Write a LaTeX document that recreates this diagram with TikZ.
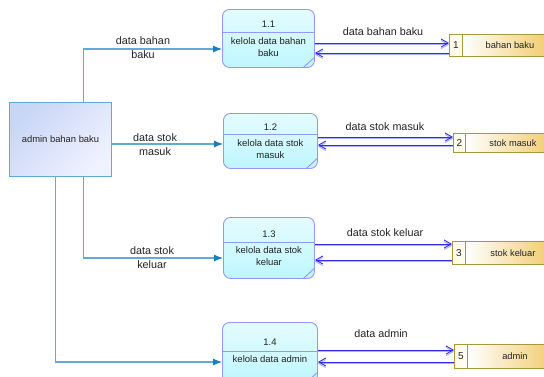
\documentclass[tikz,border=0pt]{standalone}
\usepackage{fontspec}
\setmainfont{Liberation Sans}
\usetikzlibrary{arrows.meta,calc}
\definecolor{entline}{RGB}{95,170,215}
\definecolor{entarrow}{RGB}{25,125,195}
\definecolor{entA}{RGB}{200,214,246}
\definecolor{entB}{RGB}{240,242,255}
\definecolor{procline}{RGB}{150,150,250}
\definecolor{procA}{RGB}{228,252,255}
\definecolor{procB}{RGB}{190,246,255}
\definecolor{flowblue}{RGB}{45,45,235}
\definecolor{flowlight}{RGB}{175,175,250}
\definecolor{storeline}{RGB}{170,150,60}
\definecolor{storegold}{RGB}{240,198,95}
\definecolor{storecream}{RGB}{255,252,236}
\definecolor{txt}{RGB}{35,35,35}
\tikzset{
  x=1pt, y=-1pt,
  every node/.style={text=txt, inner sep=0pt},
  ent/.style={draw=entline, line width=1pt, top color=entA, bottom color=entB,
    shading angle=45, font=\fontsize{9.4}{11}\selectfont},
  proc/.style={draw=procline, line width=0.9pt, rounded corners=7pt,
    top color=procA, bottom color=procB},
  ptext/.style={font=\fontsize{9.5}{12.5}\selectfont, align=center},
  flabel/.style={font=\fontsize{10.8}{14}\selectfont, align=center},
  storenum/.style={draw=storeline, line width=0.9pt, fill=storecream,
    font=\fontsize{10}{12}\selectfont},
  storemain/.style={draw=storeline, line width=0.9pt, left color=white,
    right color=storegold, font=\fontsize{9.3}{11}\selectfont},
  entflow/.style={draw=entline, line width=1.1pt,
    -{Latex[length=9pt,width=7pt,color=entarrow]}},
  flow/.style={draw=flowblue, line width=0.9pt,
    -{Straight Barb[length=7pt,width=8pt]},
    preaction={draw=flowlight, line width=0.9pt, transform canvas={yshift=-1.6pt}}},
}
\begin{document}
\begin{tikzpicture}
\useasboundingbox (0,0) rectangle (544,376);
\clip (0,0) rectangle (544,376);

% external entity
\node[ent, minimum width=102, minimum height=74, anchor=north west]
  (admin) at (9,102) {admin bahan baku};

% processes
\node[proc, minimum width=92, minimum height=58, anchor=north west] (p1) at (222,9) {};
\node[proc, minimum width=94, minimum height=55, anchor=north west] (p2) at (223,113) {};
\node[proc, minimum width=91, minimum height=61, anchor=north west] (p3) at (223,217) {};
\node[proc, minimum width=95, minimum height=60, anchor=north west] (p4) at (222,322) {};

\foreach \p/\d in {p1/23, p2/21, p3/25, p4/29}{
  \draw[procline, line width=0.9pt] ($(\p.north west)+(0,\d)$) -- ($(\p.north east)+(0,\d)$);
  \draw[procline, line width=0.9pt] ($(\p.south east)+(-12,0)$) -- ($(\p.south east)+(0,-11)$);
}

\node[ptext] (p1n) at ($(p1.north)+(0,15)$) {1.1};
\node[ptext] (p1t) at ($(p1.north)+(0,38)$) {kelola data bahan\\baku};
\node[ptext] (p2n) at ($(p2.north)+(0,14)$) {1.2};
\node[ptext] (p2t) at ($(p2.north)+(0,36)$) {kelola data stok\\masuk};
\node[ptext] (p3n) at ($(p3.north)+(0,17)$) {1.3};
\node[ptext] (p3t) at ($(p3.north)+(0,39)$) {kelola data stok\\keluar};
\node[ptext] (p4n) at ($(p4.north)+(0,20)$) {1.4};
\node[ptext] (p4t) at ($(p4.north)+(0,37)$) {kelola data admin};

% data stores
\node[storenum, minimum width=13, minimum height=22, anchor=north west] (s1) at (449,34) {1};
\node[storemain, minimum width=95, minimum height=22, anchor=north west] (s1m) at (462,34) {bahan baku};
\node[storenum, minimum width=12, minimum height=19, anchor=north west] (s2) at (453,133) {2};
\node[storemain, minimum width=95, minimum height=19, anchor=north west] (s2m) at (465,133) {stok masuk};
\node[storenum, minimum width=13, minimum height=23, anchor=north west] (s3) at (452,241) {3};
\node[storemain, minimum width=95, minimum height=23, anchor=north west] (s3m) at (465,241) {stok keluar};
\node[storenum, minimum width=13, minimum height=24, anchor=north west] (s5) at (454,344) {5};
\node[storemain, minimum width=95, minimum height=24, anchor=north west] (s5m) at (467,344) {admin};

% flows from the entity into the processes
\draw[entflow] ([xshift=23pt]admin.north) |- (p1.west |- 0,49);
\draw[entflow] (admin.east |- 0,144) -- (p2.west |- 0,144);
\draw[entflow] ([xshift=23pt]admin.south) |- (p3.west |- 0,258);
\draw[entflow] ([xshift=-5pt]admin.south) |- (p4.west |- 0,362);

\node[flabel] (l1) at (143,48) {data bahan\\baku};
\node[flabel] (l2) at (155,144.5) {data stok\\masuk};
\node[flabel] (l3) at (152,257.5) {data stok\\keluar};

% flows between processes and stores
\draw[flow] (p1.east |- 0,43) -- (s1.west |- 0,43);
\draw[flow] (s1.west |- 0,53) -- (p1.east |- 0,53);
\draw[flow] (p2.east |- 0,137) -- (s2.west |- 0,137);
\draw[flow] (s2.west |- 0,145) -- (p2.east |- 0,145);
\draw[flow] (p3.east |- 0,244) -- (s3.west |- 0,244);
\draw[flow] (s3.west |- 0,260) -- (p3.east |- 0,260);
\draw[flow] (p4.east |- 0,350) -- (s5.west |- 0,350);
\draw[flow] (s5.west |- 0,362) -- (p4.east |- 0,362);

\node[flabel] (f1) at (383,32) {data bahan baku};
\node[flabel] (f2) at (385,127) {data stok masuk};
\node[flabel] (f3) at (385,233) {data stok keluar};
\node[flabel] (f4) at (381,334) {data admin};
\end{tikzpicture}
\end{document}
